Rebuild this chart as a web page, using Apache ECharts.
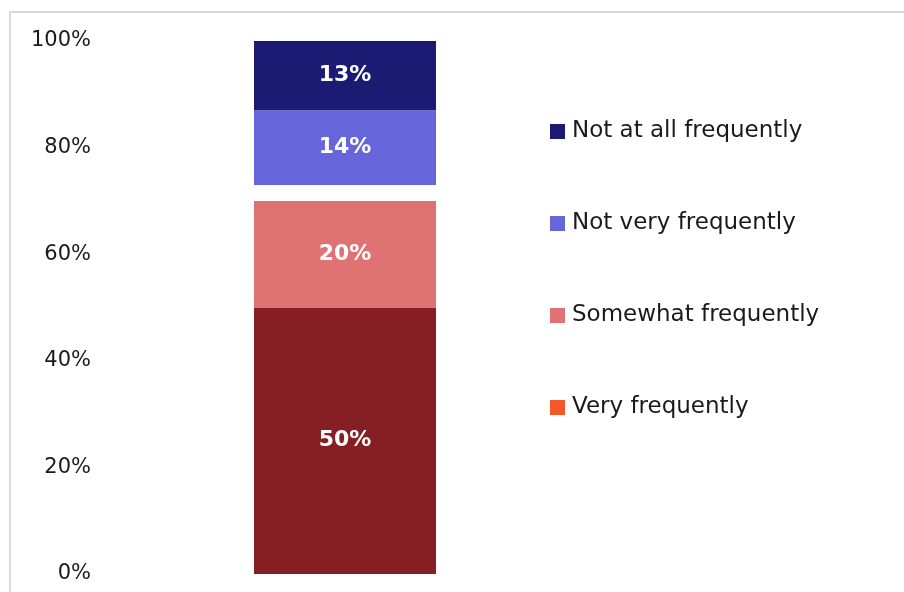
<!DOCTYPE html>
<html>
<head>
<meta charset="utf-8">
<script src="https://cdn.jsdelivr.net/npm/echarts@6/dist/echarts.min.js"></script>
<style>
  html, body { margin: 0; padding: 0; background: #fff; }
  #chart { width: 904px; height: 592px; }
</style>
</head>
<body>
<div id="chart"></div>
<script>
// Single stacked column: how frequently, in percent
const categories = ['All'];
const veryFrequently = [50];
const somewhatFrequently = [20];
const spacer = [3];           // blank band between the two halves of the column
const notVeryFrequently = [14];
const notAtAllFrequently = [13];
const tickLabels = ['0%', '20%', '40%', '60%', '80%', '100%'];

const FONT = '"DejaVu Sans", sans-serif';
const chart = echarts.init(document.getElementById('chart'));

const valueLabel = {
  show: true,
  position: 'inside',
  color: '#ffffff',
  fontFamily: FONT,
  fontWeight: 'bold',
  fontSize: 22,
  formatter: p => p.value + '%'
};

function seg(name, data, color, withLabel) {
  return {
    name: name,
    type: 'bar',
    stack: 'total',
    data: data,
    barWidth: 182,
    itemStyle: { color: color },
    label: withLabel ? valueLabel : { show: false },
    emphasis: { disabled: true }
  };
}

chart.setOption({
  animation: false,
  backgroundColor: '#ffffff',
  graphic: [{
    type: 'rect',
    shape: { x: 10, y: 12, width: 1000, height: 1000 },
    style: { fill: 'none', stroke: '#d9d9d9', lineWidth: 2 },
    silent: true
  }],
  grid: { left: 100, width: 490, top: 41, bottom: 18 },
  xAxis: {
    type: 'category',
    data: categories,
    axisLine: { show: false },
    axisTick: { show: false },
    axisLabel: { show: false }
  },
  yAxis: {
    type: 'value',
    min: 0,
    max: 100,
    interval: 20,
    axisLine: { show: false },
    axisTick: { show: false },
    splitLine: { show: false },
    axisLabel: {
      margin: 9,
      color: '#1a1a1a',
      fontFamily: FONT,
      fontSize: 21,
      formatter: v => tickLabels[v / 20]
    }
  },
  legend: {
    orient: 'vertical',
    left: 550,
    top: 120,
    padding: 0,
    itemWidth: 15,
    itemHeight: 15,
    itemGap: 69,
    icon: 'rect',
    textStyle: { fontFamily: FONT, fontSize: 23, color: '#1a1a1a', padding: [0, 0, 0, 2] },
    data: [
      { name: 'Not at all frequently' },
      { name: 'Not very frequently' },
      { name: 'Somewhat frequently' },
      { name: 'Very frequently', itemStyle: { color: '#f2582a' } }
    ],
    selectedMode: false
  },
  series: [
    seg('Very frequently', veryFrequently, '#861f23', true),
    seg('Somewhat frequently', somewhatFrequently, '#e07274', true),
    seg('', spacer, 'rgba(0,0,0,0)', false),
    seg('Not very frequently', notVeryFrequently, '#6666da', true),
    seg('Not at all frequently', notAtAllFrequently, '#1c1b73', true)
  ]
});
</script>
</body>
</html>
